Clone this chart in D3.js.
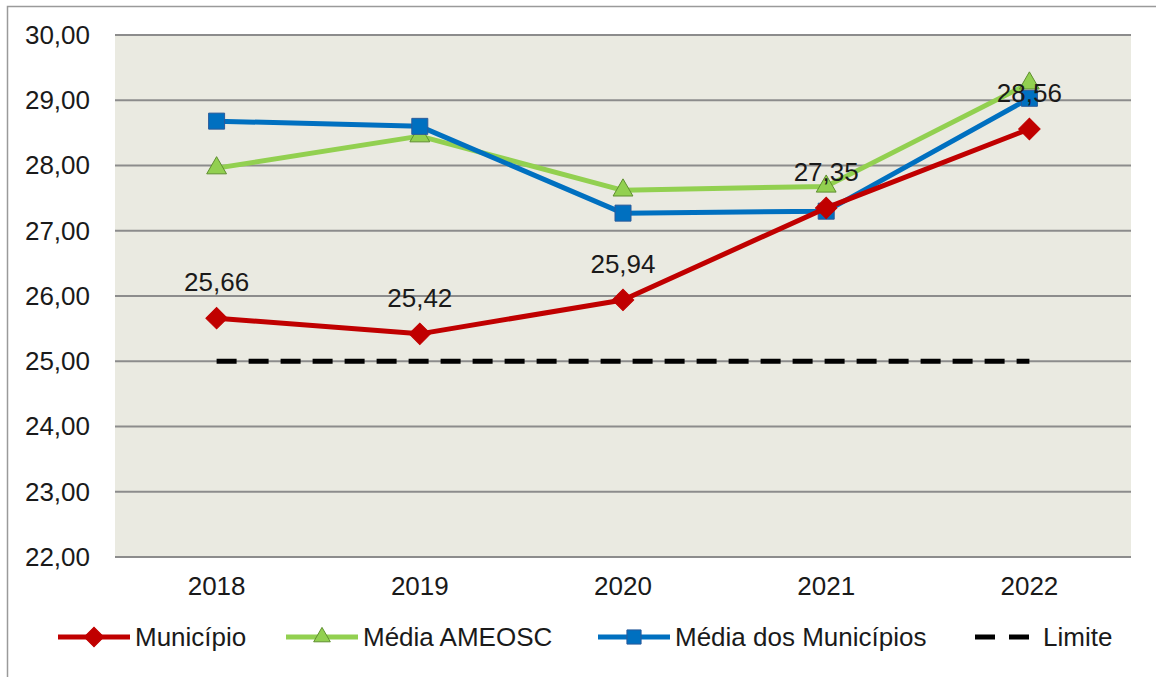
<!DOCTYPE html>
<html>
<head>
<meta charset="utf-8">
<script src="https://cdn.jsdelivr.net/npm/d3@7"></script>
<style>
  body { margin: 0; background: #fff; }
  svg { display: block; font-family: "Liberation Sans", Arial, sans-serif; }
</style>
</head>
<body>
<svg id="chart"></svg>
<script>
const width = 1156;
const height = 677;

const years = ["2018", "2019", "2020", "2021", "2022"];
const municipio = [25.66, 25.42, 25.94, 27.35, 28.56];
const mediaAmeosc = [27.96, 28.45, 27.62, 27.68, 29.26];
const mediaMunicipios = [28.68, 28.60, 27.27, 27.30, 29.03];
const limite = [25, 25, 25, 25, 25];
const yTicks = [22, 23, 24, 25, 26, 27, 28, 29, 30];

const plotLeft = 115, plotRight = 1131, plotTop = 35, plotBottom = 557;
const fontSize = 26;

const svg = d3.select("#chart").attr("width", width).attr("height", height);

// outer frame
svg.append("path")
  .attr("d", `M7.5,${height} L7.5,6.5 L${width},6.5`)
  .attr("fill", "none")
  .attr("stroke", "#9a9a9a")
  .attr("stroke-width", 1.5);

const x = d3.scaleBand().domain(years).range([plotLeft, plotRight]);
const y = d3.scaleLinear().domain([22, 30]).range([plotBottom, plotTop]);
const cx = d => x(d) + x.bandwidth() / 2;

svg.append("rect")
  .attr("x", plotLeft).attr("y", plotTop)
  .attr("width", plotRight - plotLeft).attr("height", plotBottom - plotTop)
  .attr("fill", "#EAEAE1");

// grid
svg.append("g")
  .selectAll("line")
  .data(yTicks)
  .enter()
  .append("line")
  .attr("x1", plotLeft).attr("x2", plotRight)
  .attr("y1", d => y(d)).attr("y2", d => y(d))
  .attr("stroke", "#8c8c8c")
  .attr("stroke-width", 2);

// y axis labels
const yAxis = d3.axisLeft(y)
  .tickValues(yTicks)
  .tickSize(0)
  .tickPadding(25)
  .tickFormat(d => d3.format(".2f")(d).replace(".", ","));
const gy = svg.append("g").attr("transform", `translate(${plotLeft},0)`).call(yAxis);
gy.select(".domain").remove();
gy.selectAll("text").attr("font-size", fontSize).attr("fill", "#1a1a1a")
  .attr("font-family", "'Liberation Sans', Arial, sans-serif");

// x axis labels
const xAxis = d3.axisBottom(x).tickSize(0).tickPadding(20);
const gx = svg.append("g").attr("transform", `translate(0,${plotBottom})`).call(xAxis);
gx.select(".domain").remove();
gx.selectAll("text").attr("font-size", fontSize).attr("fill", "#1a1a1a")
  .attr("font-family", "'Liberation Sans', Arial, sans-serif");

const line = d3.line().x((d, i) => cx(years[i])).y(d => y(d));

// limite
svg.append("path")
  .datum(limite)
  .attr("d", line)
  .attr("fill", "none")
  .attr("stroke", "#000")
  .attr("stroke-width", 5)
  .attr("stroke-dasharray", "20,12");

const series = [
  { name: "Média AMEOSC", values: mediaAmeosc, color: "#92D050", stroke: "#5f8f2f", symbol: d3.symbolTriangle, size: 170, rot: 0 },
  { name: "Média dos Municípios", values: mediaMunicipios, color: "#0070C0", stroke: "#2a5a9a", symbol: d3.symbolSquare, size: 256, rot: 0 },
  { name: "Município", values: municipio, color: "#C00000", stroke: "#C00000", symbol: d3.symbolSquare, size: 230, rot: 45 }
];

series.forEach(s => {
  svg.append("path")
    .datum(s.values)
    .attr("d", line)
    .attr("fill", "none")
    .attr("stroke", s.color)
    .attr("stroke-width", 5)
    .attr("stroke-linejoin", "round");
  svg.append("g")
    .selectAll("path")
    .data(s.values)
    .enter()
    .append("path")
    .attr("d", d3.symbol().type(s.symbol).size(s.size))
    .attr("transform", (d, i) => `translate(${cx(years[i])},${y(d)}) rotate(${s.rot})`)
    .attr("fill", s.color)
    .attr("stroke", s.stroke)
    .attr("stroke-width", 1);
});

// data labels
svg.append("g")
  .selectAll("text")
  .data(municipio)
  .enter()
  .append("text")
  .attr("x", (d, i) => cx(years[i]))
  .attr("y", d => y(d) - 27)
  .attr("text-anchor", "middle")
  .attr("font-size", fontSize)
  .attr("fill", "#1a1a1a")
  .text(d => d3.format(".2f")(d).replace(".", ","));

// legend
const legend = [
  { name: "Município", color: "#C00000", stroke: "#C00000", symbol: d3.symbolSquare, size: 190, rot: 45, x: 58 },
  { name: "Média AMEOSC", color: "#92D050", stroke: "#5f8f2f", symbol: d3.symbolTriangle, size: 120, rot: 0, x: 286 },
  { name: "Média dos Municípios", color: "#0070C0", stroke: "#2a5a9a", symbol: d3.symbolSquare, size: 200, rot: 0, x: 598 },
  { name: "Limite", color: "#000", dashed: true, x: 975 }
];
const ly = 637;
legend.forEach(l => {
  const g = svg.append("g");
  if (l.dashed) {
    g.append("line").attr("x1", l.x).attr("x2", l.x + 56)
      .attr("y1", ly).attr("y2", ly)
      .attr("stroke", "#000").attr("stroke-width", 5)
      .attr("stroke-dasharray", "20,14");
  } else {
    g.append("line").attr("x1", l.x).attr("x2", l.x + 72)
      .attr("y1", ly).attr("y2", ly)
      .attr("stroke", l.color).attr("stroke-width", 5);
    g.append("path")
      .attr("d", d3.symbol().type(l.symbol).size(l.size))
      .attr("transform", `translate(${l.x + 36},${ly}) rotate(${l.rot})`)
      .attr("fill", l.color).attr("stroke", l.stroke);
  }
  g.append("text")
    .attr("x", l.dashed ? l.x + 68 : l.x + 77)
    .attr("y", ly + 9)
    .attr("font-size", fontSize)
    .attr("fill", "#1a1a1a")
    .text(l.name);
});
</script>
</body>
</html>
